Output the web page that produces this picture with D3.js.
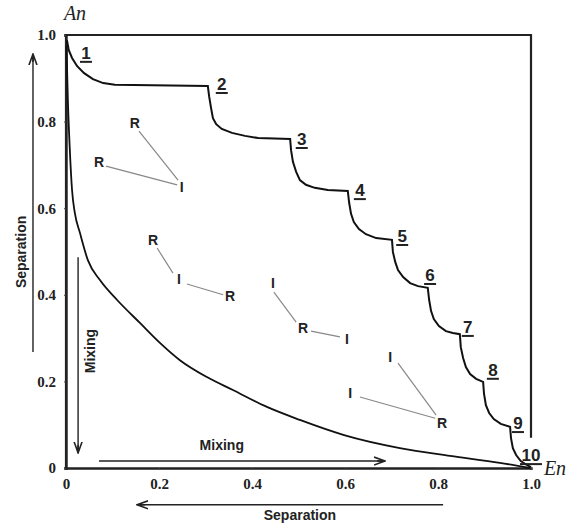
<!DOCTYPE html>
<html>
<head>
<meta charset="utf-8">
<script src="https://cdn.jsdelivr.net/npm/d3@7"></script>
<style>
  body { margin: 0; background: #fff; }
  svg { display: block; }
</style>
</head>
<body>
<svg id="graph" width="576" height="527"></svg>
<script>
// values (data units: En on x, An on y)
const xTicks = [0, 0.2, 0.4, 0.6, 0.8, 1.0];
const yTicks = [0, 0.2, 0.4, 0.6, 0.8, 1.0];

// stepped curve (separation route)
const stepCurve = [
  [0.002, 0.988], [0.006, 0.965], [0.013, 0.947], [0.024, 0.928], [0.039, 0.912],
  [0.058, 0.898], [0.080, 0.889], [0.105, 0.885], [0.305, 0.882],
  [0.308, 0.857], [0.312, 0.831], [0.316, 0.808], [0.323, 0.794], [0.335, 0.783],
  [0.357, 0.774], [0.385, 0.767], [0.413, 0.762], [0.482, 0.760],
  [0.484, 0.734], [0.488, 0.707], [0.495, 0.684], [0.503, 0.665], [0.516, 0.654],
  [0.535, 0.647], [0.563, 0.642], [0.606, 0.640],
  [0.609, 0.612], [0.613, 0.587], [0.619, 0.568], [0.630, 0.552], [0.645, 0.540],
  [0.667, 0.531], [0.701, 0.527],
  [0.703, 0.499], [0.708, 0.476], [0.714, 0.457], [0.725, 0.441], [0.740, 0.427],
  [0.757, 0.420], [0.778, 0.416],
  [0.781, 0.388], [0.785, 0.363], [0.791, 0.344], [0.802, 0.328], [0.817, 0.316],
  [0.832, 0.312], [0.847, 0.309],
  [0.849, 0.279], [0.854, 0.254], [0.860, 0.233], [0.869, 0.217], [0.882, 0.206],
  [0.897, 0.199],
  [0.899, 0.171], [0.903, 0.145], [0.910, 0.127], [0.920, 0.113], [0.935, 0.102],
  [0.955, 0.095],
  [0.957, 0.069], [0.961, 0.046], [0.968, 0.030], [0.978, 0.016], [0.991, 0.007],
  [1.000, 0.002]
];

// smooth curve (mixing route)
const mixCurve = [
  [0.001, 0.975], [0.004, 0.85], [0.008, 0.74], [0.013, 0.642], [0.019, 0.589],
  [0.030, 0.543], [0.047, 0.480], [0.073, 0.434], [0.110, 0.388], [0.159, 0.335],
  [0.202, 0.289], [0.245, 0.249], [0.303, 0.210], [0.359, 0.180], [0.432, 0.141],
  [0.503, 0.111], [0.598, 0.076], [0.718, 0.046], [0.826, 0.028], [0.933, 0.012],
  [0.998, 0.000]
];

// underlined stage numbers
const stageLabels = ["1", "2", "3", "4", "5", "6", "7", "8", "9", "10"];
const stageX = [0.043, 0.335, 0.507, 0.632, 0.723, 0.783, 0.864, 0.918, 0.972, 1.0];
const stageY = [0.938, 0.866, 0.739, 0.621, 0.515, 0.425, 0.305, 0.206, 0.083, 0.009];

// R / I markers and their connecting lines
const riText = ["R", "R", "I", "R", "I", "R", "I", "R", "I", "I", "I", "R"];
const riX = [0.148, 0.071, 0.249, 0.187, 0.243, 0.353, 0.445, 0.510, 0.604, 0.697, 0.611, 0.809];
const riY = [0.797, 0.707, 0.649, 0.527, 0.436, 0.397, 0.427, 0.323, 0.298, 0.256, 0.173, 0.104];
const riLinks = [
  [[0.157, 0.778], [0.241, 0.665]],
  [[0.086, 0.697], [0.239, 0.654]],
  [[0.196, 0.508], [0.230, 0.450]],
  [[0.260, 0.425], [0.338, 0.400]],
  [[0.447, 0.406], [0.495, 0.337]],
  [[0.527, 0.316], [0.589, 0.303]],
  [[0.714, 0.242], [0.796, 0.122]],
  [[0.632, 0.164], [0.794, 0.115]]
];

// direction arrows: from -> to
const arrowLines = [
  [[-0.071, 0.268], [-0.071, 0.956]],
  [[0.026, 0.487], [0.026, 0.035]],
  [[0.071, 0.016], [0.686, 0.016]],
  [[0.811, -0.085], [0.153, -0.085]]
];
const arrowText = ["Separation", "Mixing", "Mixing", "Separation"];
const arrowTextX = [-0.097, 0.052, 0.335, 0.503];
const arrowTextY = [0.499, 0.270, 0.053, -0.108];
const arrowTextRot = [-90, -90, 0, 0];

const x = d3.scaleLinear().domain([0, 1]).range([66, 531]);
const y = d3.scaleLinear().domain([0, 1]).range([468, 35]);

const svg = d3.select("#graph");

svg.append("defs").append("marker")
    .attr("id", "head")
    .attr("viewBox", "0 -5 12 10")
    .attr("refX", 11)
    .attr("refY", 0)
    .attr("markerWidth", 12)
    .attr("markerHeight", 10)
    .attr("markerUnits", "userSpaceOnUse")
    .attr("orient", "auto")
  .append("path")
    .attr("d", "M0,-4L11,0L0,4M3,0L11,0")
    .style("fill", "none")
    .style("stroke", "#222")
    .style("stroke-width", 1.6);

// frame
svg.append("path")
    .attr("d", `M${x(0)},${y(0)}V${y(1)}H${x(1)}V${y(0.07)}`)
    .style("fill", "none")
    .style("stroke", "#222")
    .style("stroke-width", 2.2);

const xAxis = svg.append("g")
    .attr("transform", `translate(0,${y(0)})`)
    .call(d3.axisBottom(x).tickValues(xTicks).tickSize(2).tickPadding(8)
        .tickFormat(d => d === 0 ? "0" : d.toFixed(1)));
const yAxis = svg.append("g")
    .attr("transform", `translate(${x(0)},0)`)
    .call(d3.axisLeft(y).tickValues(yTicks).tickSize(2).tickPadding(8)
        .tickFormat(d => d === 0 ? "0" : d.toFixed(1)));

[xAxis, yAxis].forEach(function(a) {
    a.select(".domain").style("stroke", "#222").style("stroke-width", 2.4);
    a.selectAll("line").style("stroke", "#444");
    a.selectAll("text")
        .style("font-family", "'Liberation Serif', serif")
        .style("font-weight", "bold")
        .style("font-size", "15px")
        .style("fill", "#222");
});

svg.append("text")
    .attr("x", x(0) + 9).attr("y", 20)
    .attr("text-anchor", "middle")
    .style("font-family", "'Liberation Serif', serif")
    .style("font-style", "italic")
    .style("font-size", "20px")
    .style("fill", "#222")
    .text("An");
svg.append("text")
    .attr("x", x(1) + 24).attr("y", y(0) + 7)
    .attr("text-anchor", "middle")
    .style("font-family", "'Liberation Serif', serif")
    .style("font-style", "italic")
    .style("font-size", "20px")
    .style("fill", "#222")
    .text("En");

const line = d3.line()
    .x(function(d) { return x(d[0]); })
    .y(function(d) { return y(d[1]); });

svg.append("path")
    .datum(stepCurve)
    .attr("d", line)
    .style("fill", "none")
    .style("stroke", "#111")
    .style("stroke-width", 2);

svg.append("path")
    .datum(mixCurve)
    .attr("d", line.curve(d3.curveMonotoneX))
    .style("fill", "none")
    .style("stroke", "#111")
    .style("stroke-width", 1.8);

// R / I
svg.selectAll(".link")
    .data(riLinks)
    .join("line")
    .attr("x1", function(d) { return x(d[0][0]); })
    .attr("y1", function(d) { return y(d[0][1]); })
    .attr("x2", function(d) { return x(d[1][0]); })
    .attr("y2", function(d) { return y(d[1][1]); })
    .style("stroke", "#888")
    .style("stroke-width", 1.2);

svg.selectAll(".ri")
    .data(riText)
    .join("text")
    .attr("x", function(d, i) { return x(riX[i]); })
    .attr("y", function(d, i) { return y(riY[i]) + 5; })
    .attr("text-anchor", "middle")
    .style("font-family", "'Liberation Sans', Arial, sans-serif")
    .style("font-weight", "bold")
    .style("font-size", "14px")
    .style("fill", "#222")
    .text(function(d) { return d; });

// stage numbers
const stage = svg.selectAll(".stage")
    .data(stageLabels)
    .join("g")
    .attr("transform", function(d, i) { return `translate(${x(stageX[i])},${y(stageY[i])})`; });
stage.append("text")
    .attr("y", -3)
    .attr("text-anchor", "middle")
    .style("font-family", "'Liberation Sans', Arial, sans-serif")
    .style("font-weight", "bold")
    .style("font-size", "17px")
    .style("fill", "#222")
    .text(function(d) { return d; });
stage.append("line")
    .attr("x1", function(d) { return -d.length * 5 - 1; })
    .attr("x2", function(d) { return d.length * 5 + 1; })
    .style("stroke", "#222")
    .style("stroke-width", 2);

// arrows
svg.selectAll(".arrow")
    .data(arrowLines)
    .join("line")
    .attr("x1", function(d) { return x(d[0][0]); })
    .attr("y1", function(d) { return y(d[0][1]); })
    .attr("x2", function(d) { return x(d[1][0]); })
    .attr("y2", function(d) { return y(d[1][1]); })
    .attr("marker-end", "url(#head)")
    .style("stroke", "#222")
    .style("stroke-width", 1.4);

svg.selectAll(".atext")
    .data(arrowText)
    .join("text")
    .attr("transform", function(d, i) {
        return `translate(${x(arrowTextX[i])},${y(arrowTextY[i])}) rotate(${arrowTextRot[i]})`;
    })
    .attr("text-anchor", "middle")
    .attr("dy", "0.35em")
    .style("font-family", "'Liberation Sans', Arial, sans-serif")
    .style("font-weight", "bold")
    .style("font-size", "14px")
    .style("fill", "#222")
    .text(function(d) { return d; });
</script>
</body>
</html>
